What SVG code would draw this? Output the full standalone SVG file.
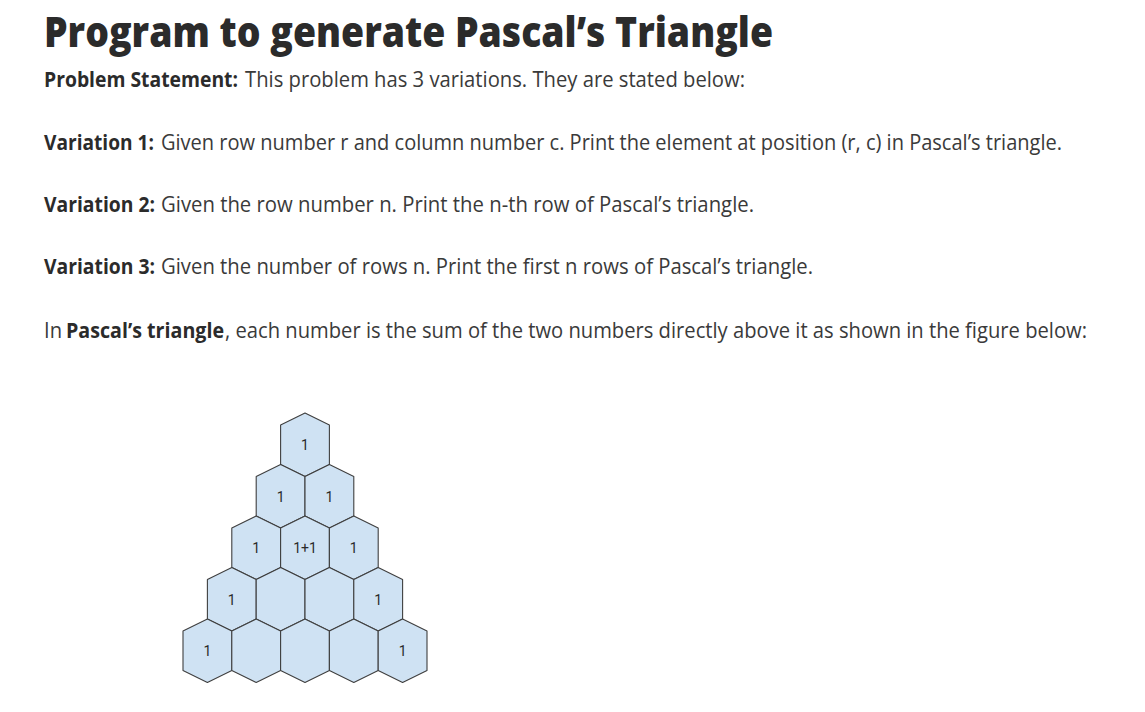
<svg xmlns="http://www.w3.org/2000/svg" xmlns:xlink="http://www.w3.org/1999/xlink" width="1145" height="712" viewBox="0 0 1145 712">
<style>
.title{font-family:"Open Sans","Liberation Sans",sans-serif;font-weight:800;font-size:43px;fill:#2b2b2b}
.b{font-family:"Open Sans","Liberation Sans",sans-serif;font-weight:700;font-size:21px;fill:#2b2b2b}
.t{font-family:"Open Sans","Liberation Sans",sans-serif;font-weight:400;font-size:21px;fill:#3a3a3a}
.hex{fill:#cfe2f3;stroke:#3f3f3f;stroke-width:1.1;stroke-linejoin:round}
.n{font-family:Roboto,"Liberation Sans",Arial,sans-serif;font-size:14px;fill:#2a2a2a;text-anchor:middle}
</style>
<defs>
<polygon id="hx" class="hex" points="0,0 24.4,12 24.4,51.5 0,63.5 -24.4,51.5 -24.4,12"/>
</defs>
<rect width="1145" height="712" fill="#ffffff"/>
<g id="text">
<text class="title" x="44" y="47" textLength="729" lengthAdjust="spacingAndGlyphs">Program to generate Pascal’s Triangle</text>
<text class="b" x="44" y="87" textLength="194" lengthAdjust="spacingAndGlyphs">Problem Statement:</text>
<text class="t" x="245" y="87" textLength="500" lengthAdjust="spacingAndGlyphs">This problem has 3 variations. They are stated below:</text>
<text class="b" x="44" y="150" textLength="110" lengthAdjust="spacingAndGlyphs">Variation 1:</text>
<text class="t" x="161" y="150" textLength="901" lengthAdjust="spacingAndGlyphs">Given row number r and column number c. Print the element at position (r, c) in Pascal’s triangle.</text>
<text class="b" x="44" y="212" textLength="111" lengthAdjust="spacingAndGlyphs">Variation 2:</text>
<text class="t" x="161" y="212" textLength="593" lengthAdjust="spacingAndGlyphs">Given the row number n. Print the n-th row of Pascal’s triangle.</text>
<text class="b" x="44" y="274" textLength="111" lengthAdjust="spacingAndGlyphs">Variation 3:</text>
<text class="t" x="161" y="274" textLength="652" lengthAdjust="spacingAndGlyphs">Given the number of rows n. Print the first n rows of Pascal’s triangle.</text>
<text class="t" x="44" y="338" textLength="18" lengthAdjust="spacingAndGlyphs">In</text>
<text class="b" x="66" y="338" textLength="158" lengthAdjust="spacingAndGlyphs">Pascal’s triangle</text>
<text class="t" x="225" y="338" textLength="862" lengthAdjust="spacingAndGlyphs">, each number is the sum of the two numbers directly above it as shown in the figure below:</text>
</g>
<g id="connectors"></g>
<g id="hex-0-0"><use xlink:href="#hx" x="305" y="413"/><text class="n" x="305" y="450">1</text></g>
<g id="hex-1-0"><use xlink:href="#hx" x="280.6" y="464.5"/><text class="n" x="280.6" y="501.5">1</text></g>
<g id="hex-1-1"><use xlink:href="#hx" x="329.4" y="464.5"/><text class="n" x="329.4" y="501.5">1</text></g>
<g id="hex-2-0"><use xlink:href="#hx" x="256.2" y="516"/><text class="n" x="256.2" y="553">1</text></g>
<g id="hex-2-1"><use xlink:href="#hx" x="305" y="516"/><text class="n" x="305" y="553">1+1</text></g>
<g id="hex-2-2"><use xlink:href="#hx" x="353.8" y="516"/><text class="n" x="353.8" y="553">1</text></g>
<g id="hex-3-0"><use xlink:href="#hx" x="231.8" y="567.5"/><text class="n" x="231.8" y="604.5">1</text></g>
<g id="hex-3-1"><use xlink:href="#hx" x="280.6" y="567.5"/></g>
<g id="hex-3-2"><use xlink:href="#hx" x="329.4" y="567.5"/></g>
<g id="hex-3-3"><use xlink:href="#hx" x="378.2" y="567.5"/><text class="n" x="378.2" y="604.5">1</text></g>
<g id="hex-4-0"><use xlink:href="#hx" x="207.4" y="619"/><text class="n" x="207.4" y="656">1</text></g>
<g id="hex-4-1"><use xlink:href="#hx" x="256.2" y="619"/></g>
<g id="hex-4-2"><use xlink:href="#hx" x="305" y="619"/></g>
<g id="hex-4-3"><use xlink:href="#hx" x="353.8" y="619"/></g>
<g id="hex-4-4"><use xlink:href="#hx" x="402.6" y="619"/><text class="n" x="402.6" y="656">1</text></g>
</svg>
